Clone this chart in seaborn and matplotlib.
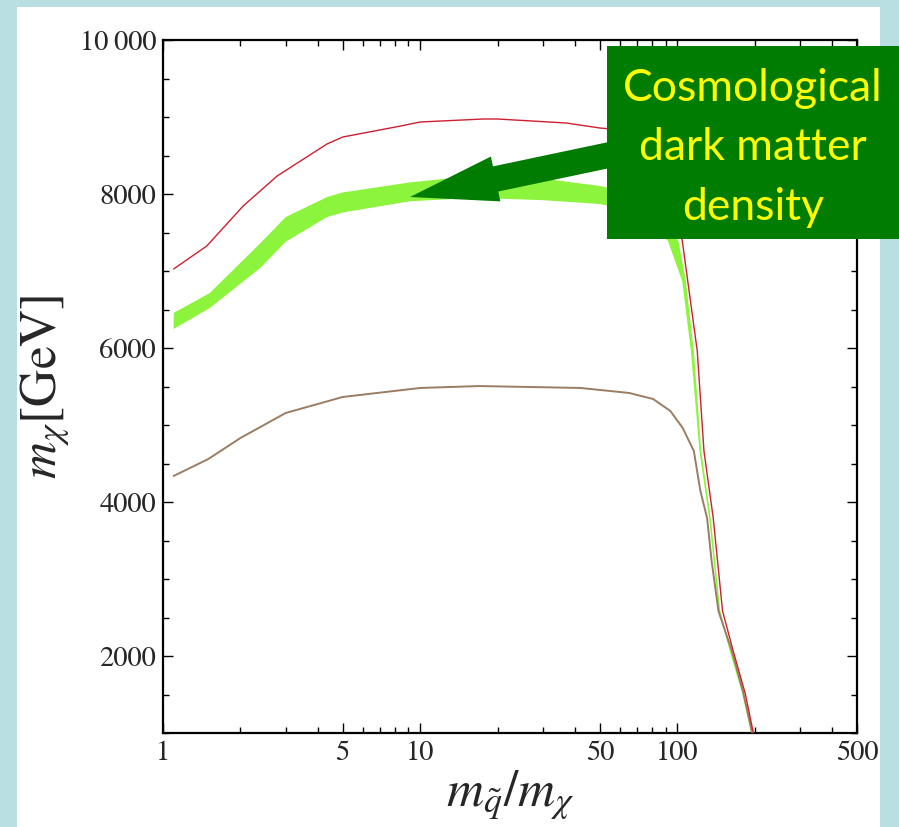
import numpy as np
import pandas as pd
import seaborn as sns
import matplotlib
matplotlib.use("Agg")
import matplotlib.pyplot as plt
from matplotlib.patches import Rectangle, FancyArrowPatch, ArrowStyle
from matplotlib.ticker import FixedLocator, NullFormatter

# ---------------- data ----------------
red_x = [1.1, 1.48, 2.05, 2.78, 4.34, 5.0, 8.4, 10, 17.6, 20, 37, 50, 53, 65, 80, 92, 100,
         105, 119.6, 127, 138, 150, 165, 184, 198]
red_y = [7026, 7325, 7844, 8234, 8649, 8740, 8883, 8935, 8974, 8974, 8922, 8857, 8850, 8780,
         8600, 8250, 7800, 7350, 5961, 4662, 3792, 2584, 2065, 1506, 987]

brown_x = [1.1, 1.5, 2, 3, 5, 10, 17, 42, 65, 80.5, 94, 105, 116, 123, 130.6, 136, 144.6,
           163, 180, 196]
brown_y = [4338, 4558, 4831, 5156, 5364, 5481, 5506, 5481, 5416, 5338, 5182, 4961, 4662,
           4143, 3792, 3234, 2584, 2065, 1545, 987]

band_up_x = [1.1, 1.52, 2.39, 3.0, 4.34, 5.0, 9.1, 13.4, 20, 30, 50, 60, 75, 88, 101, 108,
             116, 124, 135, 147, 162, 181, 196]
band_up_y = [6455, 6714, 7360, 7700, 7960, 8020, 8150, 8208, 8225, 8200, 8104, 8050, 7950,
             7750, 7390, 6870, 5960, 4660, 3790, 2584, 2065, 1506, 987]
band_lo_x = [1.1, 1.52, 2.39, 3.0, 4.34, 5.0, 9.1, 13.4, 20, 30, 50, 60, 75, 85, 92, 104.5,
             113, 122, 133, 145, 160, 179, 194]
band_lo_y = [6247, 6519, 7040, 7380, 7700, 7760, 7905, 7935, 7940, 7920, 7870, 7820, 7650,
             7500, 7390, 6870, 5960, 4660, 3790, 2584, 2065, 1506, 987]

x_major = [1, 5, 10, 50, 100, 500]
x_major_labels = ["1", "5", "10", "50", "100", "500"]
y_major = [2000, 4000, 6000, 8000, 10000]
y_major_labels = ["2000", "4000", "6000", "8000", "10\u2009000"]

box_text = "Cosmological\ndark matter\ndensity"

# ---------------- style ----------------
sns.set_style("white")
plt.rcParams["mathtext.fontset"] = "stix"
plt.rcParams["font.family"] = ["STIXGeneral", "DejaVu Serif"]

W, H = 899, 827
fig = plt.figure(figsize=(W / 100, H / 100), dpi=100, facecolor="#b9dfe3")

# white slide panel
fig.patches.append(Rectangle((17 / W, 0), (880 - 17) / W, (H - 7) / H,
                             transform=fig.transFigure, facecolor="white",
                             edgecolor="none", zorder=-5))

ax = fig.add_axes([163 / W, 1 - 733 / H, (857 - 163) / W, (733 - 40) / H])
ax.set_zorder(1)
ax.set_facecolor("white")

# green band
ax.fill(band_up_x + band_lo_x[::-1], band_up_y + band_lo_y[::-1],
        color="#8cf43c", lw=0, zorder=2)

df_red = pd.DataFrame({"x": red_x, "y": red_y})
df_brown = pd.DataFrame({"x": brown_x, "y": brown_y})
sns.lineplot(data=df_brown, x="x", y="y", ax=ax, color="#9a7d62", lw=1.4,
             sort=False, estimator=None, zorder=3)
sns.lineplot(data=df_red, x="x", y="y", ax=ax, color="#cc2030", lw=1.0,
             sort=False, estimator=None, zorder=4)

ax.set_xscale("log")
ax.set_xlim(1, 500)
ax.set_ylim(1000, 10000)

ax.xaxis.set_major_locator(FixedLocator(x_major))
ax.set_xticklabels(x_major_labels)
minors = [m * d for d in (1, 10, 100) for m in range(2, 10)]
minors = [v for v in minors if v not in x_major and v < 500]
ax.xaxis.set_minor_locator(FixedLocator(minors))
ax.xaxis.set_minor_formatter(NullFormatter())
ax.yaxis.set_major_locator(FixedLocator(y_major))
ax.set_yticklabels(y_major_labels)
ax.yaxis.set_minor_locator(FixedLocator([v for v in range(1000, 10001, 500) if v not in y_major]))

ax.tick_params(which="both", direction="in", top=True, right=True, bottom=True, left=True,
               color="black", width=1.0)
ax.tick_params(which="major", length=7, labelsize=20.5)
ax.tick_params(which="minor", length=4)
ax.tick_params(axis="x", pad=6)
ax.tick_params(axis="y", pad=5)
for s in ax.spines.values():
    s.set_visible(True)
    s.set_color("black")
    s.set_linewidth(1.6)

ax.set_xlabel(r"$m_{\tilde{q}}/m_{\chi}$", fontsize=37)
ax.set_ylabel(r"$m_{\chi}[\mathrm{GeV}]$", fontsize=37)
ax.xaxis.set_label_coords(0.5, (733 - 795) / 693)
ax.xaxis.label.set_va("center")
ax.yaxis.set_label_coords((45 - 163) / 694, 0.5)
ax.yaxis.label.set_va("center")

# arrow
def fp(x, y):
    return (x / W, 1 - y / H)

arrow = FancyArrowPatch(fp(690, 138.0), fp(410, 197),
                        transform=fig.transFigure,
                        arrowstyle=ArrowStyle.Simple(head_length=63, head_width=33, tail_width=18.5),
                        mutation_scale=1, shrinkA=0, shrinkB=0,
                        color="#007d00", lw=0, zorder=5)
fig.patches.append(arrow)

# annotation box
fig.patches.append(Rectangle(fp(607, 239), (W - 607) / W, (239 - 46) / H,
                             transform=fig.transFigure, facecolor="#007d00",
                             edgecolor="none", zorder=6))
fig.text(753 / W, 1 - 148 / H, box_text, ha="center", va="center", color="#ffff00",
         fontsize=32, family=["Lato", "DejaVu Sans"], linespacing=1.55, zorder=7)

fig.savefig("out.png", dpi=100, facecolor=fig.get_facecolor())
